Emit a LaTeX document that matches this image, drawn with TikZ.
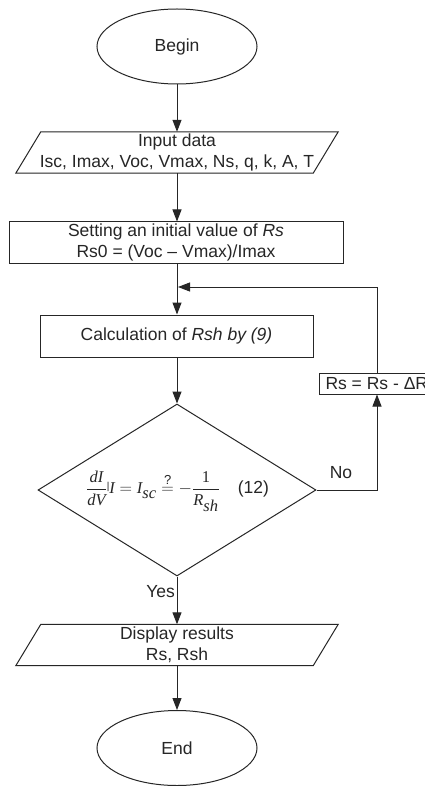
\documentclass[tikz,border=0pt]{standalone}
\usepackage{amsmath}
\usepackage{fontspec}
\setmainfont{Liberation Sans}
\newfontfamily\tmfont{Liberation Serif}
\usetikzlibrary{shapes.geometric,arrows.meta}
\newcommand{\tmi}[1]{\hbox{\tmfont\itshape #1}}
\newcommand{\tmu}[1]{\hbox{\tmfont #1}}
\tikzset{
  ink/.style={draw=black!85, line width=1pt},
  txt/.style={font=\fontsize{17.5}{20.5}\selectfont, text=black!85, inner sep=0pt},
  terminal/.style={ink, txt, ellipse, minimum width=160pt, minimum height=75pt},
  procbox/.style={ink, txt, rectangle, align=center},
  iobox/.style={txt, align=center, minimum width=297pt, minimum height=41pt},
  decision/.style={ink, diamond, minimum width=278pt, minimum height=172pt, inner sep=0pt},
  flow/.style={ink, -{Triangle[length=12pt,width=9pt]}},
}
% parallelogram drawn around an input/output node
\newcommand{\slantbox}[1]{%
  \draw[ink] ([xshift=12.5pt]#1.north west) -- ([xshift=12.5pt]#1.north east)
    -- ([xshift=-12.5pt]#1.south east) -- ([xshift=-12.5pt]#1.south west) -- cycle;}
\begin{document}
\begin{tikzpicture}[x=1pt,y=-1pt]
\useasboundingbox (0,0) rectangle (425,786);
\clip (0,0) rectangle (425,786);
\fill[white] (0,0) rectangle (425,786);

\node[terminal] (begin) at (177,46.5) {Begin};
\node[iobox] (input) at (177,152.5) {Input data\\Isc, Imax, Voc, Vmax, Ns, q, k, A, T};
\slantbox{input}
\node[procbox, minimum width=334pt, minimum height=41pt] (init) at (176,242.5)
  {Setting an initial value of \textit{Rs}\\Rs0 = (Voc – Vmax)/Imax};
\coordinate (join) at (177,287);
\coordinate (loopx) at (377,0);
\node[procbox, minimum width=273pt, minimum height=42pt] (calc) at (176.5,336)
  {Calculation of \textit{Rsh by (9)}};
\node[decision] (check) at (177,490) {};
\node[txt] (cond) at (177.5,491)
  {\fontsize{16.5}{18}\selectfont
   $\dfrac{\tmi{dI}}{\tmi{dV}}\raisebox{4pt}{\fontsize{10}{10}\selectfont|}\tmi{I} = \tmi{I}_{\raisebox{-2pt}{\tmi{sc}}}
    \overset{\text{\fontsize{13}{13}\selectfont ?}}{=}-\dfrac{\tmu{1}}{\tmi{R}_{\raisebox{-2pt}{\tmi{sh}}}}$%
   \hspace{18pt}{\fontsize{17.5}{20}\selectfont(12)}};
\node[procbox, anchor=west, minimum height=21pt, inner xsep=6pt] (update) at (319,383.5)
  {Rs = Rs - ΔR};
\node[iobox] (output) at (177,645) {Display results\\Rs, Rsh};
\slantbox{output}
\node[terminal] (end) at (177,748) {End};

\node[txt, anchor=base] (no) at (341,478) {No};
\node[txt, anchor=base east] (yes) at (175,597) {Yes};

\draw[flow] (begin.south) -- (input.north);
\draw[flow] (input.south) -- (input.south |- init.north);
\draw[flow] (init.south -| join) -- (calc.north -| join);
\draw[flow] (calc.south -| join) -- (check.north);
\draw[flow] (check.east) -| (update.south -| loopx);
\draw[flow] (update.north -| loopx) |- ([xshift=1pt]join);
\draw[flow] (check.south) -- (output.north);
\draw[flow] (output.south) -- (end.north);
\end{tikzpicture}
\end{document}
